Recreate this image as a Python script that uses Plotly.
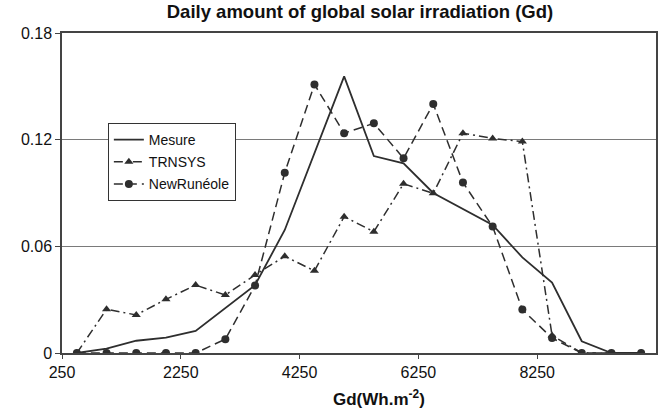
import plotly.graph_objects as go

# Gd classes (Wh.m-2), one value per 500 Wh.m-2 bin
gd_bins = [250, 750, 1250, 1750, 2250, 2750, 3250, 3750, 4250, 4750,
           5250, 5750, 6250, 6750, 7250, 7750, 8250, 8750, 9250, 9750]

# Relative frequencies of each class
mesure = [0.0, 0.0024, 0.0069, 0.0086, 0.0124, 0.0253, 0.0382, 0.0692, 0.1125, 0.1556,
          0.1108, 0.1067, 0.0900, 0.0810, 0.0720, 0.0538, 0.0396, 0.0066, 0.0, 0.0]
trnsys = [0.0, 0.0246, 0.0214, 0.0302, 0.0382, 0.0326, 0.0439, 0.0544, 0.0462, 0.0767,
          0.0682, 0.0952, 0.0898, 0.1236, 0.1207, 0.1189, 0.0099, 0.0, 0.0, 0.0]
newruneole = [0.0, 0.0, 0.0, 0.0, 0.0, 0.0078, 0.0379, 0.1014, 0.1511, 0.1236,
              0.1292, 0.1095, 0.1401, 0.0959, 0.0711, 0.0244, 0.0084, 0.0, 0.0, 0.0]

# Labelled classes on the horizontal axis (label sits on the lower edge of its class)
tick_labels = ["250", "2250", "4250", "6250", "8250"]
y_ticks = [0, 0.06, 0.12, 0.18]
y_tick_text = ["0", "0.06", "0.12", "0.18"]

BIN_HALF = 250
INK = "#2e2e2e"
FONT = "Liberation Sans, Arial, sans-serif"

fig = go.Figure()
fig.add_trace(go.Scatter(
    x=gd_bins, y=mesure, name="Mesure", mode="lines",
    line=dict(color=INK, width=1.8), legendgroup="a"))
fig.add_trace(go.Scatter(
    x=gd_bins, y=trnsys, name="TRNSYS", mode="lines+markers",
    line=dict(color=INK, width=1.5, dash="9px,4px,2px,4px"),
    marker=dict(symbol="triangle-up", size=8, color=INK), legendgroup="b"))
fig.add_trace(go.Scatter(
    x=gd_bins, y=newruneole, name="NewRunéole", mode="lines+markers",
    line=dict(color=INK, width=1.5, dash="9px,5px"),
    marker=dict(symbol="circle", size=8, color=INK), legendgroup="c"))

fig.update_layout(
    width=670, height=416,
    margin=dict(l=62, r=12, t=33, b=63),
    paper_bgcolor="white", plot_bgcolor="white",
    font=dict(family=FONT, color="#111", size=16),
    title=dict(text="<b>Daily amount of global solar irradiation (Gd)</b>",
               x=0.5373, xanchor="center", y=0.972, yanchor="middle",
               font=dict(size=18.5, family=FONT, color="#111")),
    showlegend=True,
    legend=dict(x=0.0772, y=0.7187, xanchor="left", yanchor="top",
                bgcolor="white", bordercolor="#333", borderwidth=1,
                font=dict(size=14, family=FONT, color="#111"),
                tracegroupgap=1, itemwidth=30),
    xaxis=dict(range=[0, 10000],
               tickvals=[int(t) - BIN_HALF for t in tick_labels],
               ticktext=tick_labels,
               ticks="outside", ticklen=4, tickcolor="#444",
               showline=True, linecolor="#444", linewidth=2, mirror=True,
               showgrid=False, zeroline=False,
               tickfont=dict(size=16, family=FONT, color="#111")),
    yaxis=dict(range=[0, 0.18], tickvals=y_ticks, ticktext=y_tick_text,
               ticks="outside", ticklen=5, tickcolor="#444",
               showline=True, linecolor="#444", linewidth=1.5, mirror=True,
               showgrid=True, gridcolor="#7a7a7a", gridwidth=1.2,
               zeroline=False,
               tickfont=dict(size=16, family=FONT, color="#111")),
)

fig.add_annotation(
    text="<b>Gd(Wh.m<sup>-2</sup>)</b>", xref="paper", yref="paper",
    x=0.5336, y=-0.14, xanchor="center", yanchor="middle", showarrow=False,
    font=dict(size=17, family=FONT, color="#111"))

fig.write_html("out.html")
